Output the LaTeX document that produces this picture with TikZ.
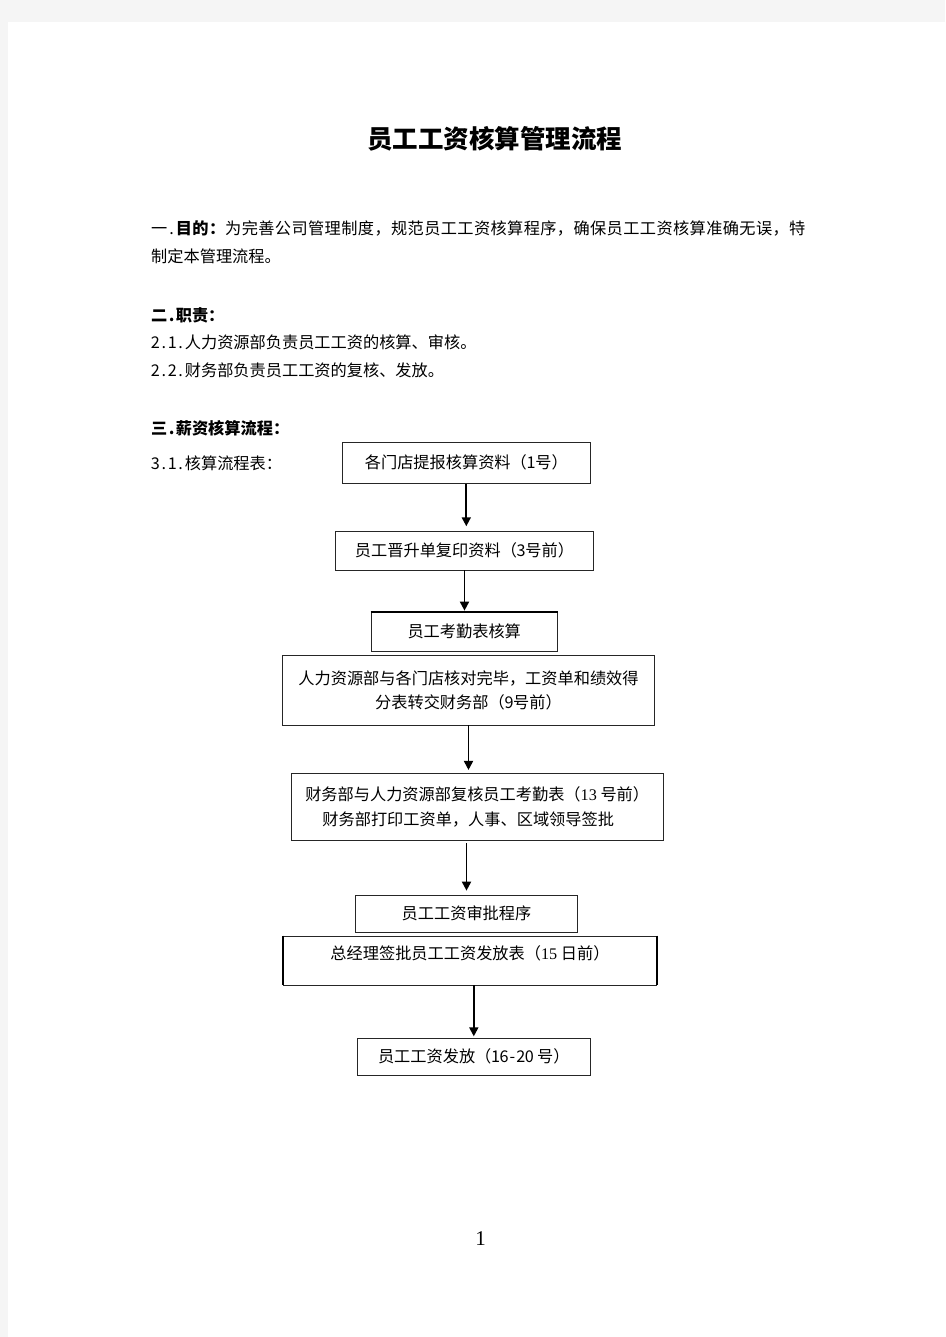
\documentclass[tikz,border=0pt]{standalone}
\usepackage{fontspec}
\setmainfont{Noto Sans CJK SC}
\newfontfamily\tnr{Liberation Serif}
\usetikzlibrary{arrows.meta}
\newcommand\hw[1]{\makebox[0.52em]{#1}}

\begin{document}
\begin{tikzpicture}[x=1pt,y=-1pt,
		body/.style={font=\fontsize{16.2}{24.5}\selectfont},
		txt/.style={body,anchor=west,inner sep=0pt,text height=14pt,text depth=2pt},
		flowbox/.style={body,draw=black!85,line width=0.8pt,inner sep=0pt,align=center},
		oneline/.style={text height=14pt,text depth=2pt},
		arr/.style={-{Triangle[length=9pt,width=9pt]},line width=1.8pt}]
	
	\fill[black!4] (0,0) rectangle (945,1337);
	\fill[white] (8,22) rectangle (945,1337);
	\useasboundingbox (0,0) rectangle (945,1337);
	
	\node[font=\fontsize{25.5}{30}\selectfont\bfseries] (title) at (494.5,139) {员工工资核算管理流程};
	
	\node[txt] (purpose) at (151,228.3) {\addfontfeature{LetterSpace=2.4}一\hw{.}{\bfseries 目的：}为完善公司管理制度，规范员工工资核算程序，确保员工工资核算准确无误，特};
	\node[txt] (purpose2) at (151,256.7) {制定本管理流程。};
	
	\node[txt] (duty) at (151,315) {\bfseries 二\hw{.}职责：};
	\node[txt] (duty1) at (151,342.7) {\hw{2}\hw{.}\hw{1}\hw{.}人力资源部负责员工工资的核算、审核。};
	\node[txt] (duty2) at (151,370) {\hw{2}\hw{.}\hw{2}\hw{.}财务部负责员工工资的复核、发放。};
	
	\node[txt] (flow) at (151,428.3) {\bfseries 三\hw{.}薪资核算流程：};
	\node[txt] (flow1) at (151,463.3) {\hw{3}\hw{.}\hw{1}\hw{.}核算流程表：};
	
	\node[flowbox,oneline,text depth=4pt,minimum width=247.3pt,minimum height=40.6pt] (b1) at (466.3,463) {各门店提报核算资料（\hw{1}号）};
	\node[flowbox,oneline,minimum width=257.6pt,minimum height=38.3pt] (b2) at (464.5,550.8) {员工晋升单复印资料（\hw{3}号前）};
	\node[flowbox,oneline,minimum width=186.3pt,minimum height=38.7pt] (b3) at (464.2,631.7) {员工考勤表核算};
	\node[flowbox,minimum width=371.6pt,minimum height=69.3pt] (b4) at (468.5,690.3) {人力资源部与各门店核对完毕，工资单和绩效得\\分表转交财务部（\hw{9}号前）};
	\node[flowbox,minimum width=372.3pt,minimum height=66.7pt] (b5) at (477.2,806.7) {财务部与人力资源部复核员工考勤表（{\tnr 13} 号前）\\财务部打印工资单，人事、区域领导签批\hspace*{18pt}};
	\node[flowbox,oneline,minimum width=221.6pt,minimum height=37.3pt] (b6) at (466.5,913.7) {员工工资审批程序};
	\node[flowbox,oneline,text depth=17pt,minimum width=373.4pt,minimum height=49pt] (b7) at (470,960.5) {总经理签批员工工资发放表（{\tnr 15} 日前）};
	\node[flowbox,oneline,minimum width=232.3pt,minimum height=36.7pt] (b8) at (473.8,1056.7) {员工工资发放（\hw{1}\hw{6}\hw{-}\hw{2}\hw{0} 号）};
	
	\draw[line width=2pt] (b3.north west) -- (b3.north east);
	\draw[line width=2pt] (b7.north west) -- (b7.south west);
	\draw[line width=2pt] (b7.north east) -- (b7.south east);
	
	\draw[arr,shorten >=5pt] (b1.south) -- (b1.south |- b2.north);
	\draw[arr,shorten >=1.3pt] (b2.south) -- (b2.south |- b3.north);
	\draw[arr,shorten >=3pt] (b4.south) -- (b4.south |- b5.north);
	\draw[arr,shorten <=3pt,shorten >=4pt] (b6.north |- b5.south) -- (b6.north);
	\draw[arr,shorten >=1.6pt] (b8.north |- b7.south) -- (b8.north);
	
	\node[font=\tnr\fontsize{21}{24}\selectfont] (pageno) at (480.5,1239) {1};
	
\end{tikzpicture}
\end{document}
